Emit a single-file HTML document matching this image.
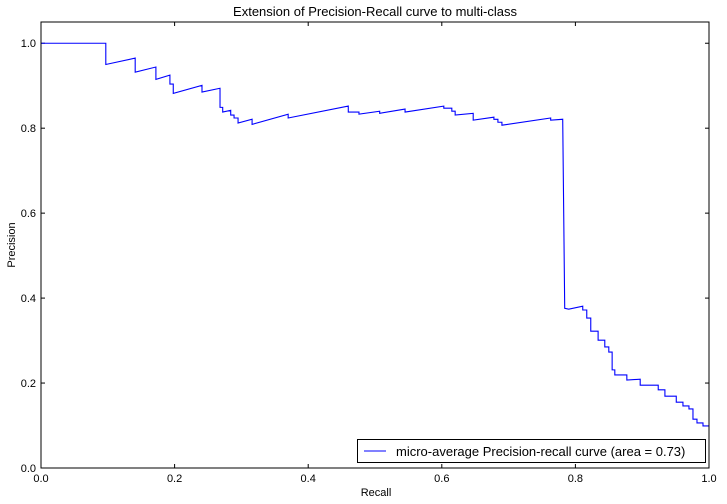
<!DOCTYPE html>
<html><head><meta charset="utf-8"><style>
body{margin:0;background:#fff;}
svg{display:block;font-family:"Liberation Sans","DejaVu Sans",sans-serif;}
</style></head><body>
<svg id="chart" width="727" height="504">
<text x="375" y="16" text-anchor="middle" font-size="13">Extension of Precision-Recall curve to multi-class</text>
<text x="376" y="496" text-anchor="middle" font-size="11">Recall</text>
<text x="15" y="245" text-anchor="middle" font-size="11" transform="rotate(-90 15 245)">Precision</text>
<g id="ticks"></g>
<polyline id="curve" fill="none" stroke="#0000ff" stroke-width="1.1"/>
<rect x="41" y="22" width="668" height="446" fill="none" stroke="#000" stroke-width="1"/>
<g>
<rect x="357.5" y="439.5" width="348" height="23" fill="#fff" stroke="#000"/>
<line x1="364" y1="451" x2="386" y2="451" stroke="#0000ff" stroke-width="1.1"/>
<text x="396" y="456" font-size="13">micro-average Precision-recall curve (area = 0.73)</text>
</g>
</svg>
<script>
const recall = [0,0.097,0.097,0.141,0.141,0.172,0.172,0.193,0.193,0.198,0.198,0.241,0.241,0.268,0.268,0.272,0.272,0.284,0.284,0.289,0.289,0.295,0.295,0.316,0.316,0.370,0.370,0.460,0.460,0.476,0.476,0.507,0.507,0.545,0.545,0.603,0.603,0.615,0.615,0.620,0.620,0.647,0.647,0.678,0.678,0.684,0.684,0.690,0.690,0.763,0.763,0.781,0.784,0.790,0.811,0.811,0.817,0.817,0.823,0.823,0.834,0.834,0.844,0.844,0.850,0.850,0.855,0.855,0.859,0.859,0.877,0.877,0.897,0.897,0.924,0.924,0.934,0.934,0.951,0.951,0.961,0.961,0.970,0.970,0.976,0.976,0.982,0.982,0.991,0.991,1.0];
const precision = [1,1,0.95,0.965,0.932,0.944,0.915,0.925,0.904,0.904,0.882,0.901,0.885,0.894,0.849,0.849,0.838,0.842,0.831,0.831,0.824,0.824,0.812,0.821,0.809,0.833,0.824,0.852,0.838,0.838,0.833,0.840,0.835,0.845,0.838,0.852,0.847,0.847,0.840,0.840,0.831,0.835,0.819,0.826,0.821,0.821,0.814,0.814,0.807,0.824,0.819,0.821,0.376,0.374,0.381,0.372,0.372,0.353,0.353,0.322,0.322,0.301,0.301,0.285,0.285,0.273,0.273,0.231,0.231,0.219,0.219,0.207,0.209,0.195,0.195,0.184,0.184,0.169,0.169,0.155,0.155,0.146,0.146,0.139,0.139,0.115,0.115,0.106,0.106,0.099,0.099];
const xTicks = [0,0.2,0.4,0.6,0.8,1.0];
const xTickLabels = ["0.0","0.2","0.4","0.6","0.8","1.0"];
const yTicks = [0,0.2,0.4,0.6,0.8,1.0];
const yTickLabels = ["0.0","0.2","0.4","0.6","0.8","1.0"];
const X0=41,X1=709,Y0=468,YT=22,YMAX=1.05;
function sx(v){return X0+v*(X1-X0);}
function sy(v){return Y0-v/YMAX*(Y0-YT);}
document.getElementById('curve').setAttribute('points',recall.map((r,i)=>sx(r).toFixed(2)+','+sy(precision[i]).toFixed(2)).join(' '));
const g=document.getElementById('ticks');const NS='http://www.w3.org/2000/svg';
function mk(t,a){const e=document.createElementNS(NS,t);for(const k in a)e.setAttribute(k,a[k]);g.appendChild(e);return e;}
xTicks.forEach((v,i)=>{const x=sx(v);
const t1=mk('line',{x1:x,y1:Y0,x2:x,y2:Y0-4,stroke:'#000'});


const t2=mk('line',{x1:x,y1:YT,x2:x,y2:YT+4,stroke:'#000'});


const l=mk('text',{x:x,y:Y0+14,'text-anchor':'middle','font-size':11});l.textContent=xTickLabels[i];

});
yTicks.forEach((v,i)=>{const y=sy(v);
const t1=mk('line',{x1:X0,y1:y,x2:X0+4,y2:y,stroke:'#000'});


const t2=mk('line',{x1:X1,y1:y,x2:X1-4,y2:y,stroke:'#000'});


const l=mk('text',{x:X0-5,y:y+4,'text-anchor':'end','font-size':11});l.textContent=yTickLabels[i];

});
</script>
</body></html>
